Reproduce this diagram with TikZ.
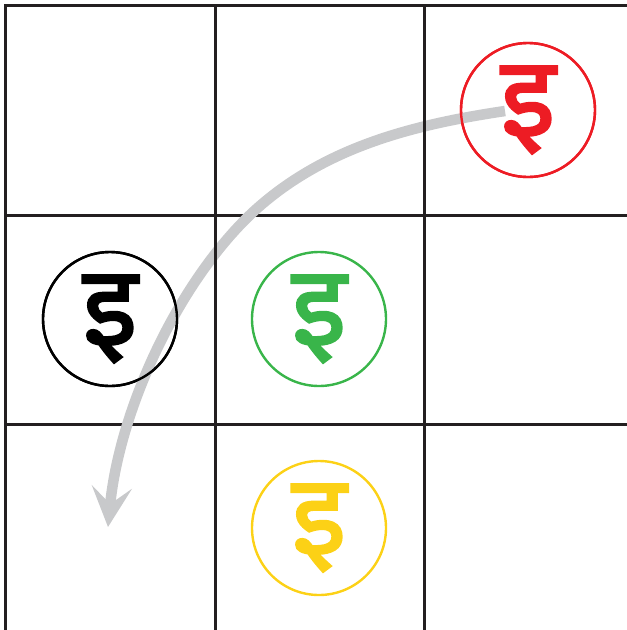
\documentclass[tikz,border=0pt]{standalone}
\usepackage{fontspec}
\newfontfamily\deva[Script=Devanagari,FakeBold=2]{Noto Sans}
\usetikzlibrary{arrows.meta,calc}
\definecolor{gridline}{HTML}{231F20}
\definecolor{redmark}{HTML}{ED1C24}
\definecolor{greenmark}{HTML}{39B54A}
\definecolor{yellowmark}{HTML}{FCD116}
\definecolor{arcgray}{HTML}{C8C9CB}
\begin{document}
\begin{tikzpicture}[x=1pt,y=-1pt,
  gridrule/.style={draw=gridline,line width=3pt},
  ring/.style={circle,draw,minimum size=134pt,inner sep=0pt,line width=2.4pt},
  letter/.style={inner sep=0pt,font=\deva\fontsize{112}{112}\selectfont},
  sweep/.style={draw=arcgray,line width=10.5pt,
    -{Stealth[length=40pt,width=40pt,inset=17pt]}}]
\useasboundingbox (0,0) rectangle (627,630);

% horizontal rules of the board
\foreach \y in {5.5,215,424.5}
  \draw[gridrule] (4,\y) -- (627,\y);

% circles on the board
\node[ring,draw=redmark]    (redring)    at (528,110) {};
\node[ring,draw=black]      (blackring)  at (110,319) {};
\node[ring,draw=greenmark]  (greenring)  at (319,319) {};
\node[ring,draw=yellowmark] (yellowring) at (319,528) {};

% sweeping move from the red piece down into the left column
\coordinate (sweepstart) at ($(redring.center)+(-23,1)$);
\coordinate (sweepmid) at (252,213);
\coordinate (tip) at (108,527);
\draw[sweep] (sweepstart) .. controls (411,125) and (322,148) .. (sweepmid)
  .. controls (176,285) and (119,412) .. (tip);

% vertical rules of the board
\foreach \x in {5.5,215,424.5}
  \draw[gridrule] (\x,4) -- (\x,630);

% redraw the rings over the sweep
\draw[redmark,line width=2.4pt] (redring.center) circle (67);
\draw[black,line width=2.4pt] (blackring.center) circle (67);

% letters
\node[letter,text=redmark]    (redletter)    at (redring.center)    {इ};
\node[letter,text=black]      (blackletter)  at (blackring.center)  {इ};
\node[letter,text=greenmark]  (greenletter)  at (greenring.center)  {इ};
\node[letter,text=yellowmark] (yellowletter) at (yellowring.center) {इ};
\end{tikzpicture}
\end{document}
